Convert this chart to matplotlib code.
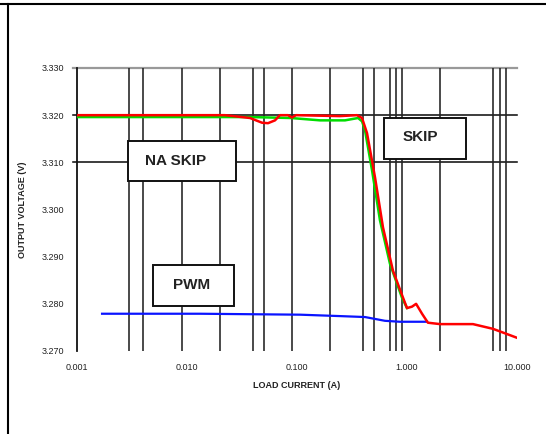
import matplotlib
matplotlib.use('Agg')
import matplotlib.pyplot as plt
from matplotlib.lines import Line2D
from matplotlib.patches import Rectangle
from matplotlib.ticker import FixedLocator, NullFormatter

plt.rcParams['font.family'] = ['Liberation Sans', 'DejaVu Sans']

# load current (A) / output voltage (V)
skip_i = [0.00102, 0.0221, 0.0374, 0.0481, 0.0545, 0.0631, 0.070, 0.0828, 0.090, 0.0979,
          0.245, 0.351, 0.390, 0.433, 0.512, 0.605, 0.746, 0.920, 1.00, 1.11, 1.21,
          1.37, 1.55, 2.0, 3.98, 6.05, 10.0]
skip_v = [3.3200, 3.3200, 3.3194, 3.3184, 3.3183, 3.3189, 3.3200, 3.3200, 3.3195, 3.3200,
          3.3198, 3.3200, 3.3194, 3.3162, 3.3068, 3.2962, 3.2870, 3.2813, 3.2791, 3.2794, 3.2800,
          3.2779, 3.2760, 3.2757, 3.2757, 3.2747, 3.2728]

naskip_i = [0.00102, 0.0080, 0.0374, 0.088, 0.162, 0.273, 0.359, 0.390, 0.415, 0.481,
            0.568, 0.700, 0.900, 1.00]
naskip_v = [3.3196, 3.3196, 3.3196, 3.3194, 3.3189, 3.3189, 3.3194, 3.3187, 3.3168, 3.3083,
            3.2977, 3.2885, 3.2813, 3.2791]

pwm_i = [0.00169, 0.0131, 0.1065, 0.246, 0.415, 0.631, 0.863, 1.52]
pwm_v = [3.2779, 3.2779, 3.2777, 3.2774, 3.2772, 3.2764, 3.2762, 3.2762]

x_ticks = [0.001, 0.01, 0.1, 1.0, 10.0]
x_tick_labels = ['0.001', '0.010', '0.100', '1.000', '10.000']
y_ticks = [3.270, 3.280, 3.290, 3.300, 3.310, 3.320, 3.330]
y_tick_labels = ['3.270', '3.280', '3.290', '3.300', '3.310', '3.320', '3.330']
y_grid = [3.310, 3.320]
x_grid = [0.003, 0.004, 0.009, 0.02, 0.04, 0.05, 0.09, 0.2, 0.4, 0.5, 0.7, 0.8, 0.9,
          2.0, 6.0, 7.0, 8.0]

fig = plt.figure(figsize=(5.46, 4.34), dpi=100)
ax = fig.add_axes([77 / 546, 1 - 351 / 434, 440 / 546, 283 / 434])

ax.set_xscale('log')
ax.set_xlim(0.001, 10.0)
ax.set_ylim(3.270, 3.330)

# vertical grid
ax.xaxis.set_minor_locator(FixedLocator(x_grid))
ax.xaxis.set_minor_formatter(NullFormatter())
ax.grid(True, which='minor', axis='x', color='#222222', linewidth=1.15)
ax.set_xticks(x_ticks)
ax.set_xticklabels(x_tick_labels)
ax.set_yticks(y_ticks)
ax.set_yticklabels(y_tick_labels)
ax.tick_params(which='both', length=0)
ax.tick_params(axis='x', labelsize=6.5, pad=9, colors='#222222')
ax.tick_params(axis='y', labelsize=6.5, pad=9, colors='#222222')

# horizontal lines, a little past the y axis
trans = ax.get_yaxis_transform()
for v in y_grid:
    ax.plot([-0.01, 1.0], [v, v], transform=trans, color='#111111', lw=1.15,
            clip_on=False, zorder=1)
ax.plot([-0.01, 1.0], [3.330, 3.330], transform=trans, color='#999999', lw=1.6,
        clip_on=False, zorder=1)

for s in ['top', 'right', 'bottom']:
    ax.spines[s].set_visible(False)
ax.spines['left'].set_color('#111111')
ax.spines['left'].set_linewidth(1.3)

ax.plot(pwm_i, pwm_v, color='#0a14ff', lw=1.6, zorder=3)
ax.plot(naskip_i, naskip_v, color='#00dd00', lw=1.8, zorder=3)
ax.plot(skip_i, skip_v, color='#ff0000', lw=1.8, zorder=4)

ax.set_xlabel('LOAD CURRENT (A)', fontsize=6.5, fontweight='bold', labelpad=6, color='#222222')
ax.set_ylabel('OUTPUT VOLTAGE (V)', fontsize=6.5, fontweight='bold', labelpad=11, color='#222222')

# label boxes
boxes = [((0.116, 0.601), 0.245, 0.141, 'NA SKIP', (0.225, 0.671)),
         ((0.173, 0.159), 0.184, 0.145, 'PWM', (0.26, 0.233)),
         ((0.698, 0.678), 0.186, 0.145, 'SKIP', (0.78, 0.756))]
for (x0, y0), w, h, txt, (tx, ty) in boxes:
    ax.add_patch(Rectangle((x0, y0), w, h, transform=ax.transAxes, facecolor='white',
                           edgecolor='#111111', lw=1.4, zorder=5))
    ax.text(tx, ty, txt, transform=ax.transAxes, ha='center', va='center',
            fontsize=11, fontweight='bold', color='#222222', zorder=6)

# outer frame (top and left edges)
fig.add_artist(Line2D([0, 1], [1 - 4 / 434, 1 - 4 / 434], color='black', lw=1.5))
fig.add_artist(Line2D([8 / 546, 8 / 546], [0, 1 - 4 / 434], color='black', lw=1.5))

fig.savefig('out.png', dpi=100)
